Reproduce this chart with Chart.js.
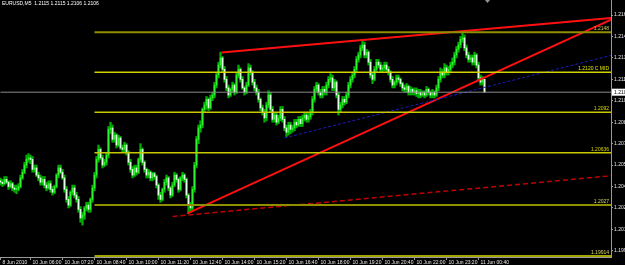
<!DOCTYPE html>
<html>
<head>
<meta charset="utf-8">
<script src="https://cdn.jsdelivr.net/npm/chart.js@4.4.1/dist/chart.umd.min.js"></script>
<style>
  html, body { margin: 0; padding: 0; background: #000; }
  #chart { display: block; }
</style>
</head>
<body>
<canvas id="chart" width="625" height="265"></canvas>
<script>
// EURUSD M5 candles, one row = 16 bars (80 minutes)
const opens = [
  1.2044,1.2043,1.2042,1.2045,1.2043,1.2040,1.2042,1.2039,1.2038,1.2038,1.2040,1.2046,1.2050,1.2055,1.2059,1.2060,
  1.2059,1.2052,1.2053,1.2048,1.2046,1.2043,1.2045,1.2041,1.2039,1.2042,1.2038,1.2036,1.2040,1.2048,1.2053,1.2050,
  1.2046,1.2038,1.2031,1.2027,1.2036,1.2039,1.2034,1.2031,1.2024,1.2018,1.2020,1.2025,1.2027,1.2024,1.2031,1.2039,
  1.2048,1.2059,1.2066,1.2060,1.2055,1.2057,1.2062,1.2080,1.2081,1.2073,1.2076,1.2069,1.2074,1.2067,1.2066,1.2069,
  1.2064,1.2057,1.2052,1.2048,1.2053,1.2050,1.2059,1.2066,1.2057,1.2052,1.2048,1.2050,1.2046,1.2049,1.2047,1.2041,
  1.2034,1.2031,1.2038,1.2043,1.2046,1.2039,1.2034,1.2041,1.2048,1.2045,1.2038,1.2046,1.2048,1.2045,1.2034,1.2027,
  1.2025,1.2038,1.2055,1.2073,1.2081,1.2083,1.2094,1.2097,1.2101,1.2095,1.2102,1.2104,1.2111,1.2118,1.2125,1.2130,
  1.2122,1.2115,1.2109,1.2104,1.2108,1.2111,1.2106,1.2118,1.2122,1.2115,1.2109,1.2106,1.2111,1.2123,1.2120,1.2113,
  1.2109,1.2106,1.2101,1.2095,1.2092,1.2088,1.2097,1.2104,1.2094,1.2087,1.2090,1.2085,1.2088,1.2094,1.2087,1.2081,
  1.2078,1.2083,1.2080,1.2081,1.2085,1.2083,1.2087,1.2084,1.2088,1.2090,1.2087,1.2089,1.2092,1.2101,1.2108,1.2111,
  1.2106,1.2104,1.2108,1.2106,1.2111,1.2115,1.2116,1.2109,1.2113,1.2104,1.2094,1.2097,1.2101,1.2099,1.2104,1.2111,
  1.2115,1.2118,1.2122,1.2129,1.2132,1.2137,1.2139,1.2132,1.2134,1.2127,1.2118,1.2115,1.2122,1.2127,1.2125,1.2122,
  1.2123,1.2125,1.2122,1.2120,1.2115,1.2111,1.2113,1.2116,1.2115,1.2112,1.2109,1.2108,1.2110,1.2106,1.2108,1.2106,
  1.2107,1.2105,1.2106,1.2104,1.2106,1.2104,1.2108,1.2106,1.2104,1.2106,1.2104,1.2109,1.2115,1.2120,1.2118,1.2123,
  1.2120,1.2122,1.2125,1.2127,1.2132,1.2136,1.2139,1.2143,1.2144,1.2137,1.2132,1.2129,1.2130,1.2127,1.2132,1.2125,
  1.2116,1.2113,1.2115
];
const highs = [
  1.2046,1.2045,1.2047,1.2047,1.2044,1.2044,1.2043,1.2041,1.2041,1.2042,1.2048,1.2052,1.2057,1.2062,1.2063,1.2062,
  1.2061,1.2055,1.2055,1.2050,1.2048,1.2047,1.2047,1.2043,1.2044,1.2044,1.2040,1.2041,1.2049,1.2055,1.2055,1.2052,
  1.2048,1.2040,1.2033,1.2037,1.2041,1.2041,1.2036,1.2033,1.2026,1.2022,1.2026,1.2029,1.2029,1.2032,1.2041,1.2050,
  1.2061,1.2069,1.2067,1.2062,1.2059,1.2064,1.2082,1.2085,1.2083,1.2078,1.2077,1.2076,1.2075,1.2069,1.2071,1.2070,
  1.2065,1.2059,1.2054,1.2055,1.2055,1.2060,1.2070,1.2067,1.2058,1.2053,1.2052,1.2051,1.2050,1.2050,1.2048,1.2042,
  1.2036,1.2039,1.2045,1.2048,1.2047,1.2040,1.2043,1.2050,1.2049,1.2046,1.2047,1.2050,1.2049,1.2046,1.2035,1.2029,
  1.2040,1.2057,1.2075,1.2083,1.2086,1.2095,1.2099,1.2103,1.2102,1.2104,1.2106,1.2113,1.2120,1.2127,1.2134,1.2131,
  1.2124,1.2117,1.2111,1.2109,1.2113,1.2112,1.2120,1.2125,1.2123,1.2117,1.2110,1.2113,1.2126,1.2125,1.2121,1.2115,
  1.2111,1.2108,1.2102,1.2097,1.2094,1.2099,1.2107,1.2106,1.2096,1.2092,1.2092,1.2090,1.2096,1.2096,1.2089,1.2083,
  1.2085,1.2085,1.2083,1.2087,1.2087,1.2089,1.2089,1.2090,1.2092,1.2092,1.2091,1.2094,1.2103,1.2110,1.2113,1.2112,
  1.2108,1.2110,1.2110,1.2113,1.2117,1.2119,1.2118,1.2115,1.2114,1.2106,1.2099,1.2103,1.2103,1.2106,1.2113,1.2117,
  1.2120,1.2124,1.2131,1.2134,1.2139,1.2142,1.2141,1.2136,1.2135,1.2129,1.2120,1.2124,1.2129,1.2129,1.2127,1.2125,
  1.2127,1.2127,1.2124,1.2121,1.2117,1.2114,1.2118,1.2118,1.2116,1.2113,1.2111,1.2112,1.2111,1.2110,1.2109,1.2109,
  1.2109,1.2108,1.2108,1.2107,1.2107,1.2110,1.2109,1.2107,1.2108,1.2107,1.2111,1.2117,1.2123,1.2122,1.2126,1.2125,
  1.2124,1.2127,1.2130,1.2134,1.2138,1.2141,1.2145,1.2148,1.2146,1.2139,1.2134,1.2132,1.2132,1.2134,1.2133,1.2127,
  1.2118,1.2117,1.2115
];
const lows = [
  1.2041,1.2040,1.2041,1.2042,1.2038,1.2039,1.2037,1.2036,1.2035,1.2037,1.2039,1.2045,1.2049,1.2053,1.2057,1.2056,
  1.2050,1.2050,1.2047,1.2044,1.2041,1.2041,1.2039,1.2037,1.2038,1.2036,1.2034,1.2035,1.2039,1.2046,1.2049,1.2045,
  1.2036,1.2029,1.2025,1.2026,1.2034,1.2032,1.2029,1.2022,1.2015,1.2013,1.2017,1.2023,1.2022,1.2022,1.2029,1.2037,
  1.2046,1.2057,1.2059,1.2053,1.2054,1.2055,1.2060,1.2077,1.2071,1.2071,1.2067,1.2068,1.2066,1.2064,1.2064,1.2062,
  1.2055,1.2050,1.2046,1.2047,1.2048,1.2049,1.2057,1.2055,1.2050,1.2046,1.2046,1.2044,1.2044,1.2045,1.2039,1.2031,
  1.2029,1.2030,1.2036,1.2041,1.2037,1.2032,1.2033,1.2040,1.2043,1.2036,1.2037,1.2044,1.2043,1.2032,1.2021,1.2022,
  1.2023,1.2036,1.2053,1.2070,1.2078,1.2081,1.2092,1.2094,1.2093,1.2094,1.2100,1.2102,1.2109,1.2116,1.2123,1.2120,
  1.2113,1.2107,1.2102,1.2103,1.2106,1.2104,1.2105,1.2116,1.2113,1.2108,1.2104,1.2105,1.2110,1.2118,1.2111,1.2107,
  1.2104,1.2099,1.2093,1.2090,1.2085,1.2086,1.2095,1.2092,1.2085,1.2085,1.2083,1.2084,1.2086,1.2085,1.2079,1.2075,
  1.2076,1.2077,1.2078,1.2079,1.2081,1.2082,1.2082,1.2082,1.2086,1.2085,1.2085,1.2087,1.2090,1.2099,1.2106,1.2104,
  1.2102,1.2102,1.2104,1.2104,1.2109,1.2113,1.2107,1.2107,1.2102,1.2090,1.2092,1.2095,1.2097,1.2098,1.2102,1.2109,
  1.2113,1.2116,1.2120,1.2127,1.2130,1.2135,1.2130,1.2130,1.2125,1.2116,1.2112,1.2114,1.2120,1.2123,1.2120,1.2120,
  1.2121,1.2120,1.2118,1.2113,1.2109,1.2109,1.2111,1.2113,1.2110,1.2107,1.2106,1.2106,1.2104,1.2104,1.2104,1.2104,
  1.2103,1.2102,1.2102,1.2103,1.2102,1.2103,1.2104,1.2102,1.2102,1.2102,1.2103,1.2107,1.2113,1.2116,1.2116,1.2118,
  1.2118,1.2120,1.2123,1.2125,1.2130,1.2134,1.2137,1.2141,1.2135,1.2130,1.2127,1.2127,1.2125,1.2125,1.2123,1.2114,
  1.2111,1.2111,1.2106
];
const closes = [
  1.2043,1.2042,1.2045,1.2043,1.2040,1.2042,1.2039,1.2038,1.2038,1.2040,1.2046,1.2050,1.2055,1.2059,1.2060,1.2059,
  1.2052,1.2053,1.2048,1.2046,1.2043,1.2045,1.2041,1.2039,1.2042,1.2038,1.2036,1.2040,1.2048,1.2053,1.2050,1.2046,
  1.2038,1.2031,1.2027,1.2036,1.2039,1.2034,1.2031,1.2024,1.2018,1.2020,1.2025,1.2027,1.2024,1.2031,1.2039,1.2048,
  1.2059,1.2066,1.2060,1.2055,1.2057,1.2062,1.2080,1.2081,1.2073,1.2076,1.2069,1.2074,1.2067,1.2066,1.2069,1.2064,
  1.2057,1.2052,1.2048,1.2053,1.2050,1.2059,1.2066,1.2057,1.2052,1.2048,1.2050,1.2046,1.2049,1.2047,1.2041,1.2034,
  1.2031,1.2038,1.2043,1.2046,1.2039,1.2034,1.2041,1.2048,1.2045,1.2038,1.2046,1.2048,1.2045,1.2034,1.2027,1.2025,
  1.2038,1.2055,1.2073,1.2081,1.2083,1.2094,1.2097,1.2101,1.2095,1.2102,1.2104,1.2111,1.2118,1.2125,1.2130,1.2122,
  1.2115,1.2109,1.2104,1.2108,1.2111,1.2106,1.2118,1.2122,1.2115,1.2109,1.2106,1.2111,1.2123,1.2120,1.2113,1.2109,
  1.2106,1.2101,1.2095,1.2092,1.2088,1.2097,1.2104,1.2094,1.2087,1.2090,1.2085,1.2088,1.2094,1.2087,1.2081,1.2078,
  1.2083,1.2080,1.2081,1.2085,1.2083,1.2087,1.2084,1.2088,1.2090,1.2087,1.2089,1.2092,1.2101,1.2108,1.2111,1.2106,
  1.2104,1.2108,1.2106,1.2111,1.2115,1.2116,1.2109,1.2113,1.2104,1.2094,1.2097,1.2101,1.2099,1.2104,1.2111,1.2115,
  1.2118,1.2122,1.2129,1.2132,1.2137,1.2139,1.2132,1.2134,1.2127,1.2118,1.2115,1.2122,1.2127,1.2125,1.2122,1.2123,
  1.2125,1.2122,1.2120,1.2115,1.2111,1.2113,1.2116,1.2115,1.2112,1.2109,1.2108,1.2110,1.2106,1.2108,1.2106,1.2107,
  1.2105,1.2106,1.2104,1.2106,1.2104,1.2108,1.2106,1.2104,1.2106,1.2104,1.2109,1.2115,1.2120,1.2118,1.2123,1.2120,
  1.2122,1.2125,1.2127,1.2132,1.2136,1.2139,1.2143,1.2144,1.2137,1.2132,1.2129,1.2130,1.2127,1.2132,1.2125,1.2116,
  1.2113,1.2115,1.2106
];

// time axis: bar index of each label
const timeTickBars = [0, 15, 31, 47, 63, 79, 95, 111, 127, 143, 159, 175, 191, 207, 223, 239];
const timeTickLabels = ['8 Jun 2010', '10 Jun 06:00', '10 Jun 07:20', '10 Jun 08:40', '10 Jun 10:00',
  '10 Jun 11:20', '10 Jun 12:40', '10 Jun 14:00', '10 Jun 15:20', '10 Jun 16:40', '10 Jun 18:00',
  '10 Jun 19:20', '10 Jun 20:40', '10 Jun 22:00', '10 Jun 23:20', '11 Jun 00:40'];
const priceTicks = [1.2160, 1.2145, 1.2130, 1.2115, 1.2100, 1.2085, 1.2070, 1.2055, 1.2040, 1.2025, 1.2010, 1.1995];

// fibo / level lines
const fibLevels = [1.2148, 1.2120, 1.2092, 1.20636, 1.2027, 1.19914];
const fibLabels = ['1.2148', '1.2120 C MID', '1.2092', '1.20636', '1.2027', '1.19914'];
const fibStartBar = 47;
const rightEdgeBar = 305.25;

// trend lines as [bar, price] pairs
const channelTop = [[110.5, 1.21338], [rightEdgeBar, 1.21579]];
const trendUp = [[93.5, 1.20212], [rightEdgeBar, 1.21567]];
const trendLong = [[86, 1.20191], [rightEdgeBar, 1.20475]];
const trendBlue = [[142, 1.2074], [rightEdgeBar, 1.21317]];
const bidPrice = 1.2106;
const caption = 'EURUSD,M5  1.2115 1.2115 1.2106 1.2106';

const FONT = '"Liberation Sans", Arial, sans-serif';
const AXIS = '#9a9a9a';

const wickData = highs.map((h, i) => ({ x: i, y: [lows[i], h] }));
const bodyData = opens.map((o, i) => ({ x: i, y: [o, closes[i]] }));
const bodyColors = opens.map((o, i) => closes[i] >= o ? '#30f030' : '#e0ffe0');

function seg(points) {
  return points.map(p => ({ x: p[0], y: p[1] }));
}
function lineSet(data, color, width, dash) {
  return {
    type: 'line', data: data, borderColor: color, borderWidth: width,
    borderDash: dash || [], pointRadius: 0, pointHoverRadius: 0, fill: false, tension: 0, order: 0
  };
}
// drop the half-label padding chart.js adds round the axes
function noPad(s) {
  s.paddingTop = 0; s.paddingBottom = 0; s.paddingLeft = 0; s.paddingRight = 0;
}

const fibColors = ['#8f8f00', '#d2d200', '#c8c800', '#c8c800', '#8f8f00', '#a4a400'];
const fibWidths = [2, 1.5, 1.5, 1.5, 2, 2];
const fibTextColors = ['#c8c850', '#e6e600', '#d8d800', '#d8d800', '#d8d860', '#d8d860'];

const datasets = [
  { type: 'bar', data: wickData, backgroundColor: '#00b000', barThickness: 1.6, grouped: false, order: 3 },
  { type: 'bar', data: bodyData, backgroundColor: bodyColors, barThickness: 1, grouped: false, order: 2, minBarLength: 1 },
  lineSet(seg([[0, bidPrice], [rightEdgeBar, bidPrice]]), '#8c8c8c', 1)
];
fibLevels.forEach((lv, k) => {
  datasets.push(lineSet(seg([[fibStartBar, lv], [rightEdgeBar, lv]]), fibColors[k], fibWidths[k]));
});
datasets.push(lineSet(seg(trendBlue), '#1c1cc0', 1, [3, 2]));
datasets.push(lineSet(seg(trendLong), '#c00000', 1.5, [5, 3]));
datasets.push(lineSet(seg(channelTop), '#ff1010', 2));
datasets.push(lineSet(seg(trendUp), '#ff1010', 2));

const mtText = {
  id: 'mtText',
  afterDraw(chart) {
    const { ctx, chartArea, scales: { x, y } } = chart;
    ctx.save();
    ctx.font = '5px ' + FONT;
    // level labels
    ctx.textAlign = 'right';
    ctx.textBaseline = 'bottom';
    fibLevels.forEach((lv, k) => {
      ctx.fillStyle = fibTextColors[k];
      ctx.fillText(fibLabels[k], chartArea.right - 2, y.getPixelForValue(lv) - 1);
    });
    // bid box on the price axis
    const py = y.getPixelForValue(bidPrice);
    ctx.fillStyle = '#ffffff';
    ctx.fillRect(chartArea.right + 1, py - 3.5, chart.width - chartArea.right, 7);
    ctx.fillStyle = '#000000';
    ctx.textAlign = 'left';
    ctx.textBaseline = 'middle';
    ctx.fillText(bidPrice.toFixed(4), chartArea.right + 3, py);
    // caption
    ctx.fillStyle = '#ffffff';
    ctx.textBaseline = 'top';
    ctx.fillText(caption, 2, 1);
    // chart shift marker
    const sx = x.getPixelForValue(closes.length + 0.5);
    ctx.fillStyle = '#909090';
    ctx.beginPath();
    ctx.moveTo(sx - 2.5, 0);
    ctx.lineTo(sx + 2.5, 0);
    ctx.lineTo(sx, 3);
    ctx.closePath();
    ctx.fill();
    ctx.restore();
  }
};

new Chart(document.getElementById('chart'), {
  type: 'bar',
  data: { datasets: datasets },
  plugins: [mtText],
  options: {
    responsive: false,
    animation: false,
    events: [],
    layout: { padding: 0, autoPadding: false },
    plugins: { legend: { display: false }, tooltip: { enabled: false } },
    scales: {
      x: {
        type: 'linear',
        min: -0.25,
        max: rightEdgeBar,
        offset: false,
        afterBuildTicks: s => { s.ticks = timeTickBars.map(v => ({ value: v })); },
        afterFit: s => { s.height = 8; noPad(s); },
        grid: { drawOnChartArea: false, offset: false, tickLength: 3, color: AXIS },
        border: { color: AXIS },
        ticks: {
          autoSkip: false, maxRotation: 0, align: 'start', labelOffset: 2, padding: 0,
          color: '#e8e8e8', font: { family: FONT, size: 5 },
          callback: (v, i) => timeTickLabels[i]
        }
      },
      y: {
        position: 'right',
        min: 1.19907,
        max: 1.21705,
        afterBuildTicks: s => { s.ticks = priceTicks.map(v => ({ value: v })); },
        afterFit: s => { s.width = 14; noPad(s); },
        grid: { drawOnChartArea: false, tickLength: 2, color: AXIS },
        border: { color: AXIS },
        ticks: {
          autoSkip: false, padding: 1, color: '#e8e8e8', font: { family: FONT, size: 5 },
          callback: v => v.toFixed(4)
        }
      }
    }
  }
});
</script>
</body>
</html>
